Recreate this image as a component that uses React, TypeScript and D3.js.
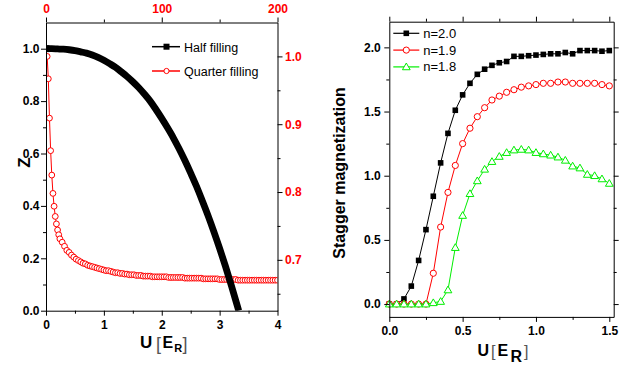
import React, { useEffect, useRef } from 'react';
import * as d3 from 'd3';

// ---- left panel: Z vs U ----
// half filling, read against bottom (U) and left (Z) axes
const halfU = [0, 0.1, 0.2, 0.3, 0.4, 0.5, 0.6, 0.7, 0.8, 0.9, 1.0, 1.1, 1.2, 1.3, 1.4, 1.5, 1.6, 1.7,
  1.8, 1.9, 2.0, 2.1, 2.2, 2.3, 2.4, 2.5, 2.6, 2.7, 2.8, 2.9, 3.0, 3.1, 3.2, 3.3, 3.33];
const halfZ = [1.0, 1.0, 0.999, 0.998, 0.996, 0.993, 0.988, 0.983, 0.976, 0.967, 0.956, 0.943, 0.929,
  0.912, 0.894, 0.874, 0.852, 0.827, 0.8, 0.768, 0.734, 0.698, 0.66, 0.618, 0.573, 0.525, 0.475, 0.42,
  0.363, 0.302, 0.238, 0.17, 0.098, 0.023, 0.0];

// quarter filling, read against top (0-200) and right (red) axes
const quarterT = [1, 2, 3, 4, 5, 6, 7, 8, 9, 10, 11, 12, 14, 16, 18, 20, 22, 24, 26, 28, 30, 32, 34, 36,
  38, 40, 42, 44, 46, 48, 50, 52, 54, 56, 58, 60, 62, 64, 66, 68, 70, 72, 74, 76, 78, 80, 82, 84, 86, 88,
  90, 92, 94, 96, 98, 100, 102, 104, 106, 108, 110, 112, 114, 116, 118, 120, 122, 124, 126, 128, 130, 132,
  134, 136, 138, 140, 142, 144, 146, 148, 150, 152, 154, 156, 158, 160, 162, 164, 166, 168, 170, 172, 174,
  176, 178, 180, 182, 184, 186, 188, 190, 192, 194, 196, 198, 200];
const quarterZ = [1.0, 0.967, 0.909, 0.861, 0.825, 0.798, 0.779, 0.764, 0.753, 0.744, 0.737, 0.731,
  0.726, 0.72, 0.714, 0.711, 0.707, 0.704, 0.701, 0.699, 0.697, 0.695, 0.694, 0.692, 0.691, 0.69, 0.689,
  0.688, 0.687, 0.686, 0.685, 0.684, 0.684, 0.683, 0.682, 0.681, 0.681, 0.68, 0.68, 0.679, 0.679, 0.678,
  0.678, 0.678, 0.677, 0.677, 0.677, 0.676, 0.676, 0.676, 0.676, 0.675, 0.675, 0.675, 0.675, 0.675, 0.675,
  0.675, 0.674, 0.674, 0.674, 0.674, 0.674, 0.674, 0.674, 0.673, 0.673, 0.673, 0.673, 0.673, 0.673, 0.673,
  0.673, 0.672, 0.672, 0.672, 0.672, 0.672, 0.672, 0.672, 0.671, 0.671, 0.671, 0.671, 0.671, 0.671, 0.671,
  0.671, 0.67, 0.67, 0.67, 0.67, 0.67, 0.67, 0.67, 0.67, 0.67, 0.67, 0.67, 0.67, 0.67, 0.67, 0.67, 0.67,
  0.67, 0.67];

const zBottomTicks = [0, 1, 2, 3, 4];
const zBottomMinor = [0.5, 1.5, 2.5, 3.5];
const zLeftTicks = [0, 0.2, 0.4, 0.6, 0.8, 1.0];
const zLeftMinor = [0.1, 0.3, 0.5, 0.7, 0.9];
const zTopTicks = [0, 100, 200];
const zTopMinor = [50, 150];
const zRightTicks = [0.7, 0.8, 0.9, 1.0];
const zRightMinor = [0.65, 0.75, 0.85, 0.95];

// ---- right panel: stagger magnetization ----
const magU = [0, 0.05, 0.1, 0.15, 0.2, 0.25, 0.3, 0.35, 0.4, 0.45, 0.5, 0.55, 0.6, 0.65, 0.7, 0.75, 0.8,
  0.85, 0.9, 0.95, 1.0, 1.05, 1.1, 1.15, 1.2, 1.25, 1.3, 1.35, 1.4, 1.45, 1.5];
const mag20 = [0, 0, 0.04, 0.14, 0.34, 0.58, 0.84, 1.1, 1.33, 1.51, 1.63, 1.72, 1.79, 1.83, 1.86, 1.88,
  1.89, 1.93, 1.93, 1.935, 1.94, 1.945, 1.95, 1.95, 1.96, 1.95, 1.975, 1.975, 1.975, 1.97, 1.975];
const mag19 = [0, 0, 0, 0, 0, 0, 0.24, 0.6, 0.87, 1.08, 1.25, 1.37, 1.46, 1.53, 1.59, 1.62, 1.65, 1.67,
  1.69, 1.7, 1.71, 1.72, 1.72, 1.73, 1.73, 1.72, 1.72, 1.72, 1.72, 1.71, 1.7];
const mag18 = [0, 0, 0, 0, 0, 0, 0.01, 0.02, 0.11, 0.44, 0.69, 0.86, 0.96, 1.05, 1.11, 1.15, 1.18, 1.2,
  1.205, 1.2, 1.18, 1.17, 1.16, 1.145, 1.12, 1.075, 1.06, 1.01, 1.0, 0.975, 0.94];

const mXTicks = [0, 0.5, 1.0, 1.5];
const mXMinor = [0.25, 0.75, 1.25];
const mYTicks = [0, 0.5, 1.0, 1.5, 2.0];
const mYMinor = [0.25, 0.75, 1.25, 1.75];

const FONT = 'Arial, "Liberation Sans", sans-serif';
const GREEN = '#00ee00';

type Orient = 'bottom' | 'top' | 'left' | 'right';

const App: React.FC = () => {
  const svgRef = useRef<SVGSVGElement>(null);

  useEffect(() => {
    if (!svgRef.current) return;
    const svg = d3.select(svgRef.current);
    svg.selectAll('*').remove();

    // eslint-disable-next-line @typescript-eslint/no-explicit-any
    const addAxis = (orient: Orient, scale: any, pos: number, major: number[], minor: number[],
      fmt: ((d: number) => string) | null, pad: number, color = '#000') => {
      const make = orient === 'bottom' ? d3.axisBottom : orient === 'top' ? d3.axisTop
        : orient === 'left' ? d3.axisLeft : d3.axisRight;
      const tr = orient === 'bottom' || orient === 'top' ? `translate(0,${pos})` : `translate(${pos},0)`;
      svg.append('g').attr('transform', tr)
        .call(make(scale).tickValues(minor).tickSize(3).tickFormat(() => ''))
        .call(g => g.select('.domain').remove());
      const ax = svg.append('g').attr('transform', tr)
        .call(make(scale).tickValues(major).tickSize(5).tickSizeOuter(0).tickPadding(pad)
          .tickFormat(fmt ? ((d: d3.NumberValue) => fmt(+d)) : () => ''));
      ax.selectAll('text')
        .attr('font-family', FONT)
        .attr('font-size', 12)
        .attr('font-weight', 'bold')
        .attr('fill', color);
    };

    // ================= left panel =================
    const L = { left: 46, right: 277.5, top: 22.5, bottom: 310.7 };
    const x = d3.scaleLinear().domain([0, 4]).range([L.left, L.right]);
    const y = d3.scaleLinear().domain([0, 1.1]).range([L.bottom, L.top]);
    const xTop = d3.scaleLinear().domain([0, 200]).range([L.left, L.right]);
    const yRight = d3.scaleLinear().domain([0.625, 1.05]).range([L.bottom, L.top]);

    const defs = svg.append('defs');
    defs.append('clipPath').attr('id', 'clipL').append('rect')
      .attr('x', L.left).attr('y', L.top).attr('width', L.right - L.left).attr('height', L.bottom - L.top);

    const gL = svg.append('g').attr('clip-path', 'url(#clipL)');

    // quarter filling
    const qData = quarterT.map((t, i) => [xTop(t), yRight(quarterZ[i])] as [number, number]);
    gL.append('path').datum(qData)
      .attr('d', d3.line())
      .attr('fill', 'none').attr('stroke', 'red').attr('stroke-width', 1);
    gL.selectAll('.qpt').data(qData).enter().append('circle')
      .attr('cx', d => d[0]).attr('cy', d => d[1]).attr('r', 2.9)
      .attr('fill', '#fff').attr('stroke', 'red').attr('stroke-width', 1);

    // half filling (dense squares in the original -> thick band)
    const hData = halfU.map((u, i) => [x(u), y(halfZ[i])] as [number, number]);
    gL.append('path').datum(hData)
      .attr('d', d3.line().curve(d3.curveMonotoneX))
      .attr('fill', 'none').attr('stroke', '#000').attr('stroke-width', 6.8);
    gL.append('rect')
      .attr('x', hData[0][0] - 3.4).attr('y', hData[0][1] - 3.4).attr('width', 6.8).attr('height', 6.8)
      .attr('fill', '#000');

    addAxis('bottom', x, L.bottom, zBottomTicks, zBottomMinor, d => d3.format('d')(d), 4.5);
    addAxis('left', y, L.left, zLeftTicks, zLeftMinor, d => d3.format('.1f')(d), 1.5);
    addAxis('top', xTop, L.top, zTopTicks, zTopMinor, d => d3.format('d')(d), 5, 'red');
    addAxis('right', yRight, L.right, zRightTicks, zRightMinor, d => d3.format('.1f')(d), 2.5, 'red');

    // legend
    const legL = [
      { label: 'Half filling', color: '#000', marker: 'square', y: 46.7, base: 52 },
      { label: 'Quarter filling', color: 'red', marker: 'circle', y: 71, base: 76 },
    ];
    legL.forEach(l => {
      svg.append('line').attr('x1', 152).attr('x2', 180).attr('y1', l.y).attr('y2', l.y)
        .attr('stroke', l.color).attr('stroke-width', 1.5);
      if (l.marker === 'square') {
        svg.append('rect').attr('x', 166.5 - 3).attr('y', l.y - 3).attr('width', 6).attr('height', 6).attr('fill', '#000');
      } else {
        svg.append('circle').attr('cx', 166.5).attr('cy', l.y).attr('r', 2.6)
          .attr('fill', '#fff').attr('stroke', 'red');
      }
      svg.append('text').attr('x', 184).attr('y', l.base)
        .attr('font-family', FONT).attr('font-size', 12.5).attr('fill', '#000').text(l.label);
    });

    // axis titles
    svg.append('text')
      .attr('transform', 'translate(29.5,162.5) rotate(-90)')
      .attr('text-anchor', 'middle')
      .attr('font-family', FONT).attr('font-size', 17).attr('font-weight', 'bold')
      .text('Z');

    const titleL = svg.append('g').attr('font-family', FONT);
    titleL.append('text').attr('x', 140).attr('y', 348.3).attr('font-size', 17).attr('font-weight', 'bold').text('U');
    titleL.append('text').attr('x', 156).attr('y', 349.5).attr('font-size', 18).attr('fill', '#555').text('[');
    titleL.append('text').attr('x', 162.5).attr('y', 348.3).attr('font-size', 16).attr('font-weight', 'bold').text('E');
    titleL.append('text').attr('x', 174.3).attr('y', 351.7).attr('font-size', 11).attr('font-weight', 'bold').text('R');
    titleL.append('text').attr('x', 182.5).attr('y', 349.5).attr('font-size', 18).attr('fill', '#555').text(']');

    // ================= right panel =================
    const R = { left: 389.3, right: 613.7, top: 21.7, bottom: 316.9 };
    const mx = d3.scaleLinear().domain([0, 1.53]).range([R.left, R.right]);
    const my = d3.scaleLinear().domain([-0.1, 2.2]).range([R.bottom, R.top]);

    defs.append('clipPath').attr('id', 'clipR').append('rect')
      .attr('x', R.left - 5).attr('y', R.top).attr('width', R.right - R.left + 10).attr('height', R.bottom - R.top);
    const gR = svg.append('g').attr('clip-path', 'url(#clipR)');

    const series = [
      { label: 'n=2.0', values: mag20, color: '#000', marker: 'square' },
      { label: 'n=1.9', values: mag19, color: 'red', marker: 'circle' },
      { label: 'n=1.8', values: mag18, color: GREEN, marker: 'triangle' },
    ];

    const tri = d3.symbol().type(d3.symbolTriangle).size(26);

    // eslint-disable-next-line @typescript-eslint/no-explicit-any
    const drawMarker = (g: any, marker: string, color: string, cx: number, cy: number) => {
      if (marker === 'square') {
        g.append('rect').attr('x', cx - 2.8).attr('y', cy - 2.8).attr('width', 5.6).attr('height', 5.6).attr('fill', '#000');
      } else if (marker === 'circle') {
        g.append('circle').attr('cx', cx).attr('cy', cy).attr('r', 3.1)
          .attr('fill', '#fff').attr('stroke', color).attr('stroke-width', 1);
      } else {
        g.append('path').attr('d', tri()).attr('transform', `translate(${cx},${cy + 0.6})`)
          .attr('fill', '#fff').attr('stroke', color).attr('stroke-width', 1);
      }
    };

    series.forEach(s => {
      const pts = magU.map((u, i) => [mx(u), my(s.values[i])] as [number, number]);
      gR.append('path').datum(pts).attr('d', d3.line())
        .attr('fill', 'none').attr('stroke', s.color).attr('stroke-width', 1);
      pts.forEach(p => drawMarker(gR, s.marker, s.color, p[0], p[1]));
    });

    addAxis('bottom', mx, R.bottom, mXTicks, mXMinor, d => d3.format('.1f')(d), 5);
    addAxis('left', my, R.left, mYTicks, mYMinor, d => d3.format('.1f')(d), 3.5);
    addAxis('top', mx, R.top, mXTicks, mXMinor, null, 3);
    addAxis('right', my, R.right, mYTicks, mYMinor, null, 3);

    // legend
    series.forEach((s, i) => {
      const ly = 33.3 + i * 16.8;
      svg.append('line').attr('x1', 393.3).attr('x2', 419.3).attr('y1', ly).attr('y2', ly)
        .attr('stroke', s.color).attr('stroke-width', 1.2);
      drawMarker(svg, s.marker, s.color, 406.3, ly);
      svg.append('text').attr('x', 423.3).attr('y', ly + 4.4)
        .attr('font-family', FONT).attr('font-size', 13).attr('fill', '#000').text(s.label);
    });

    svg.append('text')
      .attr('transform', 'translate(345,173) rotate(-90)')
      .attr('text-anchor', 'middle')
      .attr('font-family', FONT).attr('font-size', 16).attr('font-weight', 'bold')
      .text('Stagger magnetization');

    const titleR = svg.append('g').attr('font-family', FONT);
    titleR.append('text').attr('x', 477.5).attr('y', 356).attr('font-size', 16).attr('font-weight', 'bold').text('U');
    titleR.append('text').attr('x', 491).attr('y', 357).attr('font-size', 16).attr('fill', '#555').text('[');
    titleR.append('text').attr('x', 497.5).attr('y', 356).attr('font-size', 16).attr('font-weight', 'bold').text('E');
    titleR.append('text').attr('x', 510.5).attr('y', 361.5).attr('font-size', 16).attr('font-weight', 'bold').text('R');
    titleR.append('text').attr('x', 524).attr('y', 357).attr('font-size', 16).attr('fill', '#555').text(']');
  }, []);

  return (
    <svg ref={svgRef} width={641} height={368}
      style={{ position: 'absolute', left: 0, top: 0, background: '#fff' }} />
  );
};

export default App;
